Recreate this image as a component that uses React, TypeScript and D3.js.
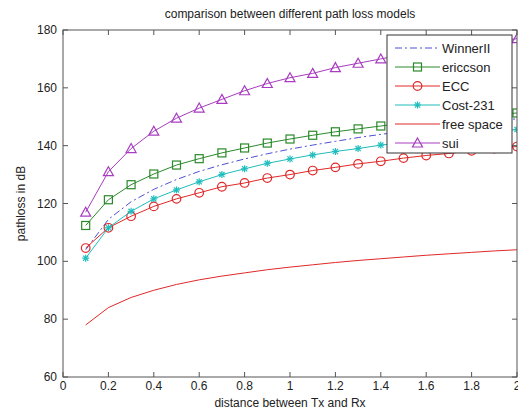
import React from 'react';
import * as d3 from 'd3';

const distances = [0.1, 0.2, 0.3, 0.4, 0.5, 0.6, 0.7, 0.8, 0.9, 1.0, 1.1, 1.2, 1.3, 1.4, 1.5, 1.6, 1.7, 1.8, 1.9, 2.0];

const winner2 = [104, 114.5, 120.6, 124.9, 128.3, 131.1, 133.4, 135.4, 137.2, 138.8, 140.2, 141.5, 142.8, 143.9, 144.9, 145.9, 146.8, 147.7, 148.5, 149.3];
const ericsson = [112.4, 121.3, 126.5, 130.2, 133.3, 135.5, 137.5, 139.2, 140.9, 142.3, 143.6, 144.8, 145.8, 146.8, 147.8, 148.6, 149.4, 150.1, 150.7, 151.3];
const ecc = [104.6, 111.6, 115.6, 119, 121.6, 123.7, 125.8, 127.1, 128.8, 130, 131.4, 132.5, 133.7, 134.6, 135.7, 136.6, 137.3, 138.2, 139, 139.7];
const cost231 = [101.1, 111.6, 117.3, 121.6, 124.7, 127.5, 130, 132, 133.9, 135.4, 136.8, 138, 139, 140.2, 141.1, 142, 142.9, 143.8, 144.7, 145.6];
const freeSpace = [78, 84, 87.5, 90, 92, 93.6, 94.9, 96, 97.1, 98, 98.8, 99.6, 100.3, 100.9, 101.5, 102.1, 102.6, 103.1, 103.6, 104];
const sui = [117, 131, 139, 145, 149.5, 153, 156, 159, 161.5, 163.5, 165, 167, 168.5, 170, 171.5, 172.5, 174, 175, 176, 177];

const xTicks = [0, 0.2, 0.4, 0.6, 0.8, 1, 1.2, 1.4, 1.6, 1.8, 2];
const yTicks = [60, 80, 100, 120, 140, 160, 180];

type Marker = 'none' | 'square' | 'circle' | 'star' | 'triangle';

const series: { name: string; values: number[]; color: string; dash?: string; marker: Marker }[] = [
  { name: 'WinnerII', values: winner2, color: '#4f4fd6', dash: '7,3,2,3', marker: 'none' },
  { name: 'ericcson', values: ericsson, color: '#2a8a2a', marker: 'square' },
  { name: 'ECC', values: ecc, color: '#e02828', marker: 'circle' },
  { name: 'Cost-231', values: cost231, color: '#1fbdbd', marker: 'star' },
  { name: 'free space', values: freeSpace, color: '#e02828', marker: 'none' },
  { name: 'sui', values: sui, color: '#a83cc0', marker: 'triangle' },
];

const W = 518;
const H = 412;
const left = 63, right = 517, top = 30, bottom = 377;
const font = 'Arial, "Liberation Sans", sans-serif';
const axisColor = '#555';

function MarkerShape({ kind, x, y, color }: { kind: Marker; x: number; y: number; color: string }) {
  if (kind === 'square') return <rect x={x - 4} y={y - 4} width={8} height={8} fill="none" stroke={color} strokeWidth={1.2} />;
  if (kind === 'circle') return <circle cx={x} cy={y} r={4.3} fill="none" stroke={color} strokeWidth={1.2} />;
  if (kind === 'triangle') return <path d={`M${x},${y - 5} L${x + 5},${y + 4} L${x - 5},${y + 4} Z`} fill="none" stroke={color} strokeWidth={1.2} />;
  if (kind === 'star') {
    const s = 3.5;
    return (
      <g stroke={color} strokeWidth={1.2}>
        <line x1={x - s} y1={y} x2={x + s} y2={y} />
        <line x1={x} y1={y - s} x2={x} y2={y + s} />
        <line x1={x - 2.6} y1={y - 2.6} x2={x + 2.6} y2={y + 2.6} />
        <line x1={x - 2.6} y1={y + 2.6} x2={x + 2.6} y2={y - 2.6} />
      </g>
    );
  }
  return null;
}

export default function App() {
  const x = d3.scaleLinear().domain([0, 2]).range([left, right]);
  const y = d3.scaleLinear().domain([60, 180]).range([bottom, top]);
  const line = d3.line<number>().x((_, i) => x(distances[i])).y(d => y(d));

  // legend box
  const lgX = 387, lgY = 35, lgW = 125, lgH = 118, rowH = 19;

  return (
    <svg width={W} height={H} style={{ position: 'absolute', left: 0, top: 0, background: '#fff' }} fontFamily={font}>
      <rect x={0} y={0} width={W} height={H} fill="#fff" />
      <text x={290} y={18} fontSize={12} textAnchor="middle" fill="#222">comparison between different path loss models</text>

      <defs>
        <clipPath id="plot"><rect x={left} y={top} width={right - left} height={bottom - top} /></clipPath>
      </defs>

      <g clipPath="url(#plot)">
        {series.map(s => (
          <g key={s.name}>
            <path d={line(s.values) || ''} fill="none" stroke={s.color} strokeWidth={1} strokeDasharray={s.dash} />
            {s.values.map((v, i) => (
              <MarkerShape key={i} kind={s.marker} x={x(distances[i])} y={y(v)} color={s.color} />
            ))}
          </g>
        ))}
      </g>

      {/* axes box and ticks */}
      <rect x={left} y={top} width={right - left} height={bottom - top} fill="none" stroke={axisColor} strokeWidth={1} />
      {xTicks.map(t => (
        <g key={'x' + t}>
          <line x1={x(t)} x2={x(t)} y1={bottom} y2={bottom - 5} stroke={axisColor} />
          <line x1={x(t)} x2={x(t)} y1={top} y2={top + 5} stroke={axisColor} />
          <text x={x(t)} y={390} fontSize={12} textAnchor="middle" fill="#222">{t}</text>
        </g>
      ))}
      {yTicks.map(t => (
        <g key={'y' + t}>
          <line x1={left} x2={left + 5} y1={y(t)} y2={y(t)} stroke={axisColor} />
          <line x1={right} x2={right - 5} y1={y(t)} y2={y(t)} stroke={axisColor} />
          <text x={57} y={y(t) + 4} fontSize={12} textAnchor="end" fill="#222">{t}</text>
        </g>
      ))}
      <text x={290} y={407} fontSize={12} textAnchor="middle" fill="#222">distance between Tx and Rx</text>
      <text transform={`translate(25,${(top + bottom) / 2}) rotate(-90)`} fontSize={12} textAnchor="middle" fill="#222">pathloss in dB</text>

      {/* legend */}
      <rect x={lgX} y={lgY} width={lgW} height={lgH} fill="#fff" stroke="#333" strokeWidth={1} />
      {series.map((s, i) => {
        const cy = lgY + 13 + i * rowH;
        return (
          <g key={'lg' + s.name}>
            <line x1={395} x2={440} y1={cy} y2={cy} stroke={s.color} strokeWidth={1} strokeDasharray={s.dash} />
            <MarkerShape kind={s.marker} x={417.5} y={cy} color={s.color} />
            <text x={442} y={cy + 4.5} fontSize={13} fill="#222">{s.name}</text>
          </g>
        );
      })}
    </svg>
  );
}
